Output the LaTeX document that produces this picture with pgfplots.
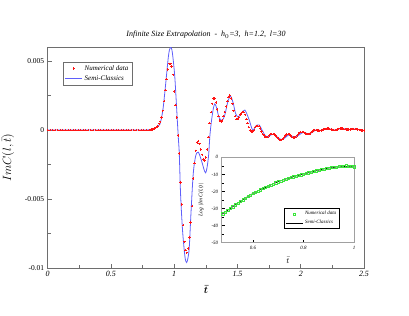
\documentclass[border=0pt]{standalone}
\usepackage{pgfplots}
\pgfplotsset{compat=1.18}
\usepackage{fontspec}
\setmainfont{Liberation Serif}
\definecolor{semiblue}{RGB}{95,95,250}
\definecolor{numred}{RGB}{255,20,20}
\definecolor{framegray}{RGB}{110,110,110}
\definecolor{insetgray}{RGB}{160,160,160}
\definecolor{numgreen}{RGB}{60,230,60}
\begin{document}
\begin{tikzpicture}
\path[use as bounding box] (0bp,0bp) rectangle (409bp,316bp);
\node[font=\fontsize{8}{9}\selectfont\itshape] at (206bp,281bp) {Infinite Size Extrapolation\ \ -\ \ h$_0$=3,\ \ h=1.2,\ \ l=30};
\begin{axis}[
  at={(47.7bp,48bp)}, anchor=south west,
  scale only axis, width=316.3bp, height=220.7bp,
  xmin=0, xmax=2.5, ymin=-0.01, ymax=0.006,
  xtick={0,0.5,1,1.5,2,2.5},
  xticklabels={0,0.5,1,1.5,2,2.5},
  minor xtick={0.25,0.75,1.25,1.75,2.25},
  ytick={-0.01,-0.005,0,0.005},
  yticklabels={-0.01,-0.005,0,0.005},
  minor ytick={-0.0075,-0.0025,0.0025},
  xtick pos=bottom, ytick pos=left, tick align=inside,
  major tick length=4bp, minor tick length=3bp,
  axis line style={framegray, line width=0.7pt},
  tick style={framegray, line width=0.6pt},
  xticklabel style={font=\fontsize{8}{9}\selectfont\itshape},
  yticklabel style={font=\fontsize{7.5}{9}\selectfont},
  xlabel={$\bar{t}$}, xlabel style={font=\fontsize{10}{10}\selectfont\boldmath, at={(0.5,-0.097)}, anchor=center},
  ylabel={$ImC(l,\bar{t})$}, ylabel style={font=\fontsize{12}{13}\selectfont, at={(-0.095,0.5)}},
  scaled y ticks=false,
  legend style={at={(0.049,0.935)}, anchor=north west, draw=framegray, line width=0.5pt,
    font=\fontsize{7}{8}\selectfont\itshape, inner sep=1.5pt},
  legend cell align=left,
]
\addplot[only marks, mark=+, mark size=1.2pt, numred, mark options={line width=0.8pt}] table {
x y
0.00 0
0.02 0
0.04 0
0.06 0
0.08 0
0.10 0
0.12 0
0.14 0
0.16 0
0.18 0
0.20 0
0.22 0
0.24 0
0.26 0
0.28 0
0.30 0
0.32 0
0.34 0
0.36 0
0.38 0
0.40 0
0.42 0
0.44 0
0.46 0
0.48 0
0.50 0
0.52 0
0.54 0
0.56 0
0.58 0
0.60 0
0.62 0
0.64 0
0.66 0
0.68 0
0.70 0
0.72 0
0.74 0
0.76 0
0.78 0
0.80 0
0.81 0.00001
0.82 0.00003
0.83 0.00005
0.84 0.0001
0.85 0.00015
0.86 0.00022
0.87 0.0003
0.88 0.00045
0.89 0.0006
0.90 0.0009
0.91 0.0014
0.92 0.0021
0.93 0.0029
0.94 0.0037
0.95 0.0044
0.96 0.0048
0.97 0.0048
0.98 0.0046
0.99 0.0040
1.00 0.0028
1.01 0.0018
1.02 0.0009
1.03 -0.0004
1.04 -0.0017
1.05 -0.0038
1.06 -0.0054
1.07 -0.0069
1.08 -0.0081
1.09 -0.0087
1.10 -0.0089
1.11 -0.0086
1.12 -0.0078
1.13 -0.0067
1.14 -0.0055
1.15 -0.0035
1.16 -0.0024
1.17 -0.0015
1.18 -0.0009
1.19 -0.0008
1.20 -0.0010
1.21 -0.0014
1.22 -0.0018
1.23 -0.0021
1.24 -0.0022
1.25 -0.0020
1.26 -0.0014
1.27 -0.0005
1.28 0.0005
1.29 0.0013
1.30 0.0019
1.31 0.0023
1.32 0.0023
1.33 0.0020
1.34 0.0015
1.35 0.0010
1.36 0.0007
1.37 0.0006
1.38 0.0007
1.39 0.0010
1.40 0.0013
1.41 0.0017
1.42 0.0021
1.43 0.0024
1.44 0.0025
1.45 0.0023
1.46 0.0019
1.47 0.0014
1.48 0.0010
1.49 0.0008
1.50 0.0008
1.51 0.0009
1.52 0.0011
1.53 0.0012
1.54 0.0013
1.55 0.0013
1.56 0.0011
1.57 0.0008
1.58 0.0005
1.59 0.0002
1.60 0.0000
1.61 -0.0001
1.62 -0.0001
1.63 0.0000
1.64 0.0002
1.65 0.0003
1.66 0.0003
1.67 0.0003
1.68 0.0001
1.69 -0.0001
1.70 -0.0003
1.71 -0.0004
1.72 -0.0005
1.73 -0.0005
1.74 -0.0005
1.75 -0.0004
1.76 -0.0003
1.77 -0.0003
1.78 -0.0003
1.79 -0.0003
1.80 -0.0004
1.81 -0.0005
1.82 -0.0006
1.83 -0.0007
1.84 -0.0007
1.85 -0.0007
1.86 -0.0006
1.87 -0.0005
1.88 -0.0004
1.89 -0.0003
1.90 -0.0003
1.91 -0.0003
1.92 -0.0004
1.93 -0.0005
1.94 -0.00055
1.95 -0.00055
1.96 -0.0005
1.97 -0.0004
1.98 -0.0003
1.99 -0.0002
2.00 -0.00015
2.01 -0.00015
2.02 -0.00015
2.03 -0.0002
2.04 -0.00025
2.05 -0.0003
2.06 -0.0003
2.07 -0.00028
2.08 -0.0002
2.09 -0.0001
2.10 -0.00003
2.11 0.0
2.12 0.0
2.13 -0.00002
2.14 -0.00004
2.15 -0.00005
2.16 -0.00003
2.17 0.0
2.18 0.00003
2.19 0.00006
2.20 0.00009
2.21 0.0001
2.22 0.0001
2.23 0.00008
2.24 0.00005
2.25 0.00002
2.26 0.0
2.27 0.0
2.28 0.00002
2.29 0.00005
2.30 0.00009
2.31 0.00011
2.32 0.00012
2.33 0.0001
2.34 0.00008
2.35 0.00006
2.36 0.00004
2.37 0.00004
2.38 0.00004
2.39 0.00005
2.40 0.00006
2.41 0.00007
2.42 0.00007
2.43 0.00007
2.44 0.00006
2.45 0.00004
2.46 0.00002
2.47 0.0
2.48 -0.00002
2.49 -0.00003
2.50 -0.00004
};
\addlegendentry{Numerical data}
\addplot[semiblue, line width=0.8pt, smooth] coordinates {
(0,0) (0.5,0) (0.75,0) (0.80,0.00002) (0.84,0.0001) (0.87,0.00025) (0.887,0.00043)
(0.90,0.0009) (0.913,0.00164) (0.927,0.00285) (0.94,0.00406) (0.953,0.00526)
(0.962,0.0058) (0.972,0.0060) (0.982,0.0058) (0.993,0.0050) (1.005,0.0038)
(1.019,0.0016) (1.032,-0.0005) (1.04,-0.0017) (1.05,-0.0046) (1.066,-0.0073)
(1.085,-0.0092) (1.098,-0.0096) (1.108,-0.0093) (1.119,-0.0085) (1.132,-0.0061)
(1.15,-0.0032) (1.169,-0.0019) (1.19,-0.0016) (1.215,-0.0022) (1.248,-0.0031)
(1.27,-0.0020) (1.282,-0.0004) (1.295,0.0007) (1.31,0.0016) (1.321,0.0019)
(1.335,0.0016) (1.355,0.0009) (1.379,0.0007) (1.40,0.0011) (1.425,0.0021)
(1.445,0.00245) (1.465,0.0020) (1.485,0.0012) (1.506,0.00095) (1.53,0.0012)
(1.558,0.00145) (1.59,0.0008) (1.62,0.0000) (1.645,0.0003) (1.672,0.00036)
(1.70,-0.0001) (1.73,-0.0005) (1.785,-0.0003) (1.848,-0.0007) (1.909,-0.00034)
(1.953,-0.00054) (2.019,-0.00017) (2.066,-0.00029) (2.12,0.0) (2.16,-0.00003)
(2.216,0.0001) (2.27,0.0) (2.32,0.00012) (2.375,0.00004) (2.43,0.00007) (2.5,-0.00003)
};
\addlegendentry{Semi-Classics}
\end{axis}
\begin{axis}[
  at={(221.7bp,73.3bp)}, anchor=south west,
  scale only axis, width=132.3bp, height=85.4bp,
  axis background/.style={fill=white},
  xmin=0.476, xmax=1, ymin=-50, ymax=0,
  xtick={0.6,0.8,1}, xticklabels={0.6,0.8,1},
  ytick={-50,-40,-30,-20,-10,0}, yticklabels={-50,-40,-30,-20,-10,0},
  minor ytick={-45,-35,-25,-15,-5},
  xtick pos=bottom, ytick pos=left, tick align=inside,
  major tick length=3bp, minor tick length=2bp,
  axis line style={insetgray, line width=1pt},
  tick style={black, line width=0.5pt},
  ticklabel style={font=\fontsize{5}{6}\selectfont\itshape},
  xlabel={$\bar{t}$}, xlabel style={font=\fontsize{8}{8}\selectfont, at={(0.5,-0.13)}, anchor=north},
  ylabel={Log $|$Im C(l,t)$|$}, ylabel style={font=\fontsize{5.5}{6}\selectfont\itshape, at={(-0.11,0.5)}},
  legend style={at={(0.473,0.403)}, anchor=north west, draw=black, line width=0.4pt,
    font=\fontsize{5}{6}\selectfont\itshape, inner sep=1pt},
  legend cell align=left,
]
\addplot[only marks, mark=square, mark size=1.1pt, numgreen, mark options={line width=0.5pt}] table {
x y
0.48 -33.0
0.49 -32.0
0.50 -31.0
0.51 -29.9
0.52 -28.9
0.53 -27.8
0.54 -26.8
0.55 -25.8
0.56 -24.8
0.57 -23.9
0.58 -22.9
0.59 -22.0
0.60 -21.1
0.61 -20.4
0.62 -19.7
0.63 -19.0
0.64 -18.3
0.65 -17.6
0.66 -16.9
0.67 -16.2
0.68 -15.6
0.69 -14.9
0.70 -14.3
0.71 -13.8
0.72 -13.3
0.73 -12.8
0.74 -12.3
0.75 -11.8
0.76 -11.4
0.77 -11.0
0.78 -10.6
0.79 -10.2
0.80 -9.8
0.81 -9.4
0.82 -9.0
0.83 -8.6
0.84 -8.3
0.85 -7.9
0.86 -7.6
0.87 -7.2
0.88 -6.9
0.89 -6.5
0.90 -6.2
0.91 -6.0
0.92 -5.8
0.93 -5.6
0.94 -5.4
0.95 -5.3
0.96 -5.1
0.97 -5.0
0.98 -5.2
0.99 -5.4
1.00 -5.5
};
\addlegendentry{Numerical data}
\addplot[black, line width=0.6pt, smooth] coordinates {
(0.476,-33.4) (0.5,-31.0) (0.55,-25.8) (0.6,-21.1) (0.65,-17.6) (0.7,-14.3)
(0.75,-11.8) (0.8,-9.8) (0.85,-7.9) (0.9,-6.3) (0.95,-5.5) (1.0,-5.2)
};
\addlegendentry{Semi-Classics}
\end{axis}
\end{tikzpicture}
\end{document}
